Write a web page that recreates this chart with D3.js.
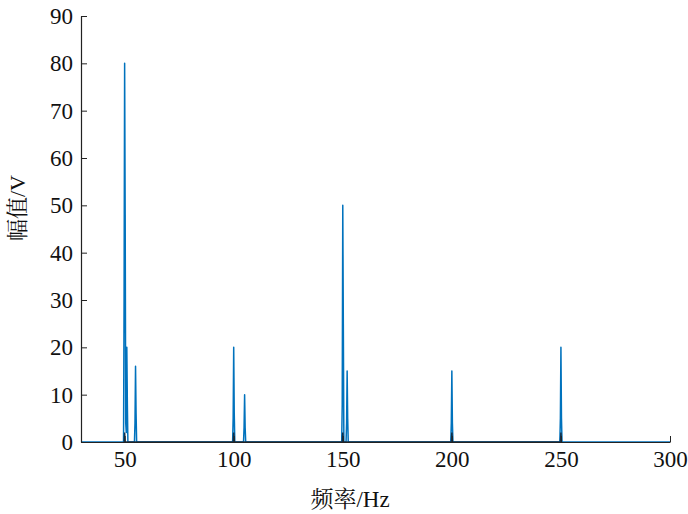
<!DOCTYPE html>
<html><head><meta charset="utf-8">
<script src="https://cdn.jsdelivr.net/npm/d3@7"></script>
<style>body{margin:0;background:#fff}svg{display:block}</style>
</head><body>
<script>
const freq = [30, 49.5, 49.75, 50, 50.25, 50.5, 50.75, 51, 51.25, 51.5,
  54.5, 54.75, 55, 55.25, 55.5,
  99.5, 99.75, 100, 100.25, 100.5,
  104.5, 104.75, 105, 105.25, 105.5,
  149.5, 149.75, 150, 150.25, 150.5,
  151.5, 151.75, 152, 152.25, 152.5,
  199.5, 199.75, 200, 200.25, 200.5,
  249.5, 249.75, 250, 250.25, 250.5, 300];
const amp = [0, 0, 30, 80, 48, 4, 2, 20, 8, 0,
  0, 4, 16, 6, 0,
  0, 5, 20, 6, 0,
  0, 3, 10, 3, 0,
  0, 8, 50, 25, 0,
  0, 4, 15, 5, 0,
  0, 4, 15, 4, 0,
  0, 5, 20, 5, 0, 0];
// small dark base marks seen at the harmonic bases
const baseFreq = [49.8, 50, 50.2, 99.8, 100, 100.2, 149.8, 150, 150.2, 199.8, 200, 200.2, 249.8, 250, 250.2];
const baseAmp = [0, 2, 0, 0, 2, 0, 0, 2, 0, 0, 2, 0, 0, 2, 0];
const xTicks = [50, 100, 150, 200, 250, 300];
const yTicks = [0, 10, 20, 30, 40, 50, 60, 70, 80, 90];
const xLabel = "频率/Hz";
const yLabel = "幅值/V";

const W = 688, H = 514;
const m = {left: 81, right: 18, top: 16, bottom: 72};
const font = '"Liberation Serif", "Noto Serif CJK SC", serif';
const svg = d3.select("body").append("svg").attr("width", W).attr("height", H);
const x = d3.scaleLinear().domain([30, 300]).range([m.left, W - m.right]);
const y = d3.scaleLinear().domain([0, 90]).range([H - m.bottom, m.top]);

const line = d3.line().x((d, i) => x(freq[i])).y(d => y(d));
svg.append("path").datum(amp).attr("d", line)
  .attr("fill", "none").attr("stroke", "#0072BD").attr("stroke-width", 1.5)
  .attr("stroke-linejoin", "round");
const baseLine = d3.line().x((d, i) => x(baseFreq[i])).y(d => y(d));
svg.append("path").datum(baseAmp).attr("d", baseLine)
  .attr("fill", "none").attr("stroke", "#12304a").attr("stroke-width", 1.5);

const xa = svg.append("g").attr("transform", `translate(0,${y(0)})`)
  .call(d3.axisBottom(x).tickValues(xTicks).tickSizeInner(-6).tickSizeOuter(0).tickPadding(9));
const ya = svg.append("g").attr("transform", `translate(${x(30)},0)`)
  .call(d3.axisLeft(y).tickValues(yTicks).tickSizeInner(-6).tickSizeOuter(0).tickPadding(8));
[xa, ya].forEach(a => {
  a.select(".domain").attr("stroke", "#222").attr("stroke-width", 1.2);
  a.selectAll(".tick line").attr("stroke", "#222").attr("stroke-width", 1);
  a.selectAll(".tick text").style("font-family", font).style("font-size", "23px").attr("fill", "#111");
});

svg.append("text").attr("x", 350).attr("y", 507).attr("text-anchor", "middle")
  .style("font-family", font).style("font-size", "23px").attr("fill", "#111")
  .text(xLabel);
svg.append("text").attr("transform", "translate(25,208) rotate(-90)").attr("text-anchor", "middle")
  .style("font-family", font).style("font-size", "22px").attr("fill", "#111")
  .text(yLabel);
</script>
</body></html>
